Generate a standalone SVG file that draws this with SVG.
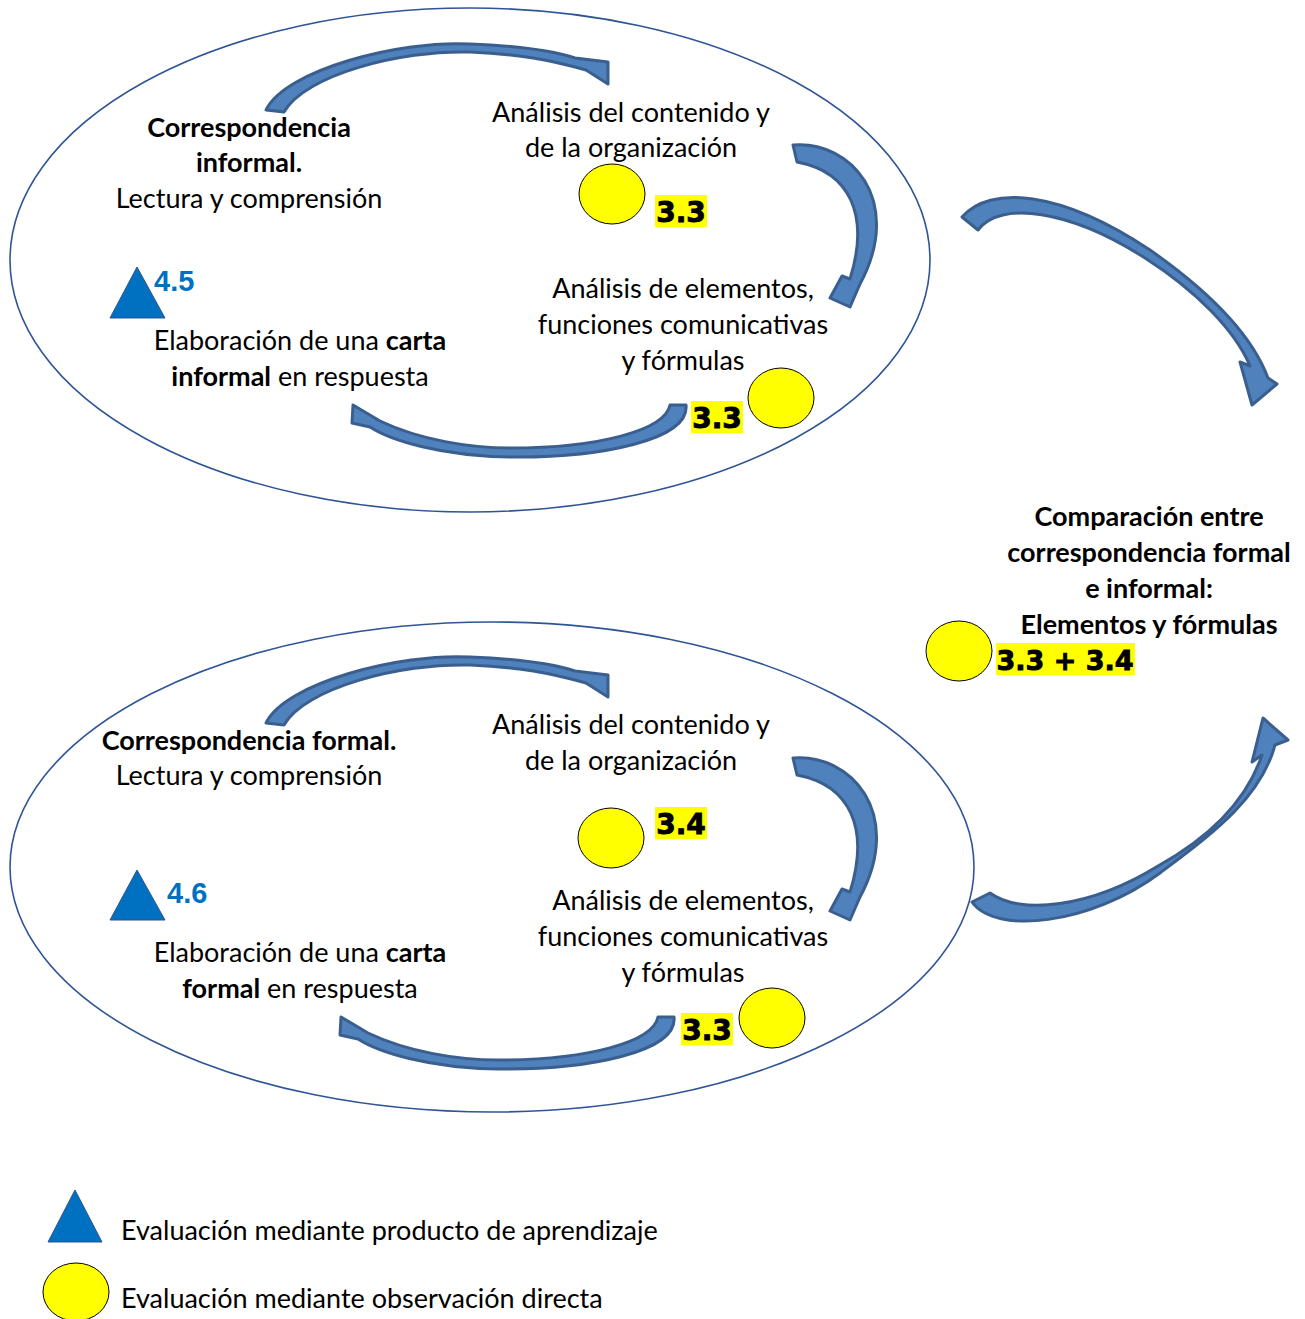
<svg xmlns="http://www.w3.org/2000/svg" width="1305" height="1319" viewBox="0 0 1305 1319">
<style>
.ell{fill:none;stroke:#2F5597;stroke-width:1.6}
.arr{fill:#4F81BD;stroke:#3A5F8F;stroke-width:3;stroke-linejoin:round}
.t{font-family:Lato,"Open Sans",sans-serif;font-size:27px;fill:#000}
.c{text-anchor:middle}
.b{font-weight:bold}
.dot{fill:#FFFF00;stroke:#000;stroke-width:1}
.tri{fill:#0070C0;stroke:#2F528F;stroke-width:1}
.hl{fill:#FFFF00}
.num{font-family:"DejaVu Sans",sans-serif;font-weight:bold;font-size:28px;fill:#000;stroke:#000;stroke-width:0.9;text-anchor:middle}
.bn{font-family:"Liberation Sans",Arial,sans-serif;font-weight:bold;font-size:29px;fill:#0070C0}
</style>
<g id="ellipse-informal"><ellipse class="ell" cx="470" cy="260" rx="460" ry="252"/></g>
<g id="ellipse-formal"><ellipse class="ell" cx="492" cy="867" rx="482" ry="245"/></g>

<g id="connectors">
<path id="a1" class="arr" d="M 266 110 C 285 70, 400 40, 470 44 C 520 46, 550 50, 575 58 L 608 62 L 608 84 L 586 70 C 550 60, 520 54, 470 52 C 400 50, 305 75, 284 112 Z"/>
<path id="a2" class="arr" d="M 793 145 C 850 140, 905 200, 860 284 L 850 307 L 830 298 L 842 276 L 850 279 C 870 215, 850 172, 797 162 Z"/>
<path id="a3" class="arr" d="M 686 405 C 690 440, 600 458, 510 457 C 440 456, 390 440, 370 427 L 352 423 L 353 405 L 380 421 C 420 440, 470 448, 510 448 C 600 448, 665 430, 670 405 Z"/>
<path id="a4" class="arr" d="M 962 217 C 990 185, 1060 190, 1150 250 C 1200 285, 1250 330, 1268 378 L 1277 384 L 1252 405 L 1240 362 L 1250 366 C 1235 330, 1195 290, 1145 258 C 1070 210, 1000 200, 978 230 Z"/>
<path id="a5" class="arr" d="M 972 902 C 995 935, 1090 925, 1160 873 C 1210 835, 1260 800, 1275 745 L 1288 740 L 1263 718 L 1252 762 L 1262 755 C 1245 805, 1205 840, 1158 866 C 1090 908, 1020 915, 990 893 Z"/>
<path id="a6" class="arr" transform="translate(0,613)" d="M 266 110 C 285 70, 400 40, 470 44 C 520 46, 550 50, 575 58 L 608 62 L 608 84 L 586 70 C 550 60, 520 54, 470 52 C 400 50, 305 75, 284 112 Z"/>
<path id="a7" class="arr" transform="translate(0,613)" d="M 793 145 C 850 140, 905 200, 860 284 L 850 307 L 830 298 L 842 276 L 850 279 C 870 215, 850 172, 797 162 Z"/>
<path id="a8" class="arr" transform="translate(-12,612)" d="M 686 405 C 690 440, 600 458, 510 457 C 440 456, 390 440, 370 427 L 352 423 L 353 405 L 380 421 C 420 440, 470 448, 510 448 C 600 448, 665 430, 670 405 Z"/>
</g>

<g id="node-informal-lectura">
<text class="t c b" x="249" y="137">Correspondencia</text>
<text class="t c b" x="249" y="172">informal.</text>
<text class="t c" x="249" y="208">Lectura y comprensión</text>
</g>
<g id="node-informal-analisis">
<text class="t c" x="631" y="122">Análisis del contenido y</text>
<text class="t c" x="631" y="157">de la organización</text>
<ellipse class="dot" cx="612" cy="194" rx="33" ry="30"/>
<rect class="hl" x="655" y="195" width="52" height="32"/>
<text class="num" x="681" y="222">3.3</text>
</g>
<g id="node-informal-elementos">
<text class="t c" x="683" y="298">Análisis de elementos,</text>
<text class="t c" x="683" y="334">funciones comunicativas</text>
<text class="t c" x="683" y="370">y fórmulas</text>
<rect class="hl" x="691" y="401" width="52" height="32"/>
<text class="num" x="717" y="428">3.3</text>
<ellipse class="dot" cx="781" cy="398" rx="33" ry="30"/>
</g>
<g id="node-informal-elaboracion">
<polygon class="tri" points="110,318 165,318 137,267"/>
<text class="bn" x="154" y="291">4.5</text>
<text class="t c" x="300" y="350">Elaboración de una <tspan class="b">carta</tspan></text>
<text class="t c" x="300" y="386"><tspan class="b">informal</tspan> en respuesta</text>
</g>

<g id="node-comparacion">
<text class="t c b" x="1149" y="526">Comparación entre</text>
<text class="t c b" x="1149" y="562">correspondencia formal</text>
<text class="t c b" x="1149" y="598">e informal:</text>
<text class="t c b" x="1149" y="634">Elementos y fórmulas</text>
<ellipse class="dot" cx="959" cy="651" rx="33" ry="30"/>
<rect class="hl" x="996" y="643" width="139" height="32"/>
<text class="num" x="1065" y="670" style="font-size:27px">3.3 + 3.4</text>
</g>

<g id="node-formal-lectura">
<text class="t c b" x="249" y="750">Correspondencia formal.</text>
<text class="t c" x="249" y="785">Lectura y comprensión</text>
</g>
<g id="node-formal-analisis">
<text class="t c" x="631" y="734">Análisis del contenido y</text>
<text class="t c" x="631" y="770">de la organización</text>
<ellipse class="dot" cx="611" cy="838" rx="33" ry="30"/>
<rect class="hl" x="655" y="807" width="52" height="32"/>
<text class="num" x="681" y="834">3.4</text>
</g>
<g id="node-formal-elementos">
<text class="t c" x="683" y="910">Análisis de elementos,</text>
<text class="t c" x="683" y="946">funciones comunicativas</text>
<text class="t c" x="683" y="982">y fórmulas</text>
<rect class="hl" x="681" y="1013" width="52" height="32"/>
<text class="num" x="707" y="1040">3.3</text>
<ellipse class="dot" cx="772" cy="1018" rx="33" ry="30"/>
</g>
<g id="node-formal-elaboracion">
<polygon class="tri" points="110,920 165,920 137,870"/>
<text class="bn" x="167" y="903">4.6</text>
<text class="t c" x="300" y="962">Elaboración de una <tspan class="b">carta</tspan></text>
<text class="t c" x="300" y="998"><tspan class="b">formal</tspan> en respuesta</text>
</g>

<g id="legend">
<polygon class="tri" points="48,1242 102,1242 75,1190"/>
<text class="t" x="121" y="1240">Evaluación mediante producto de aprendizaje</text>
<ellipse class="dot" cx="76" cy="1292" rx="33" ry="29"/>
<text class="t" x="121" y="1308">Evaluación mediante observación directa</text>
</g>
</svg>
